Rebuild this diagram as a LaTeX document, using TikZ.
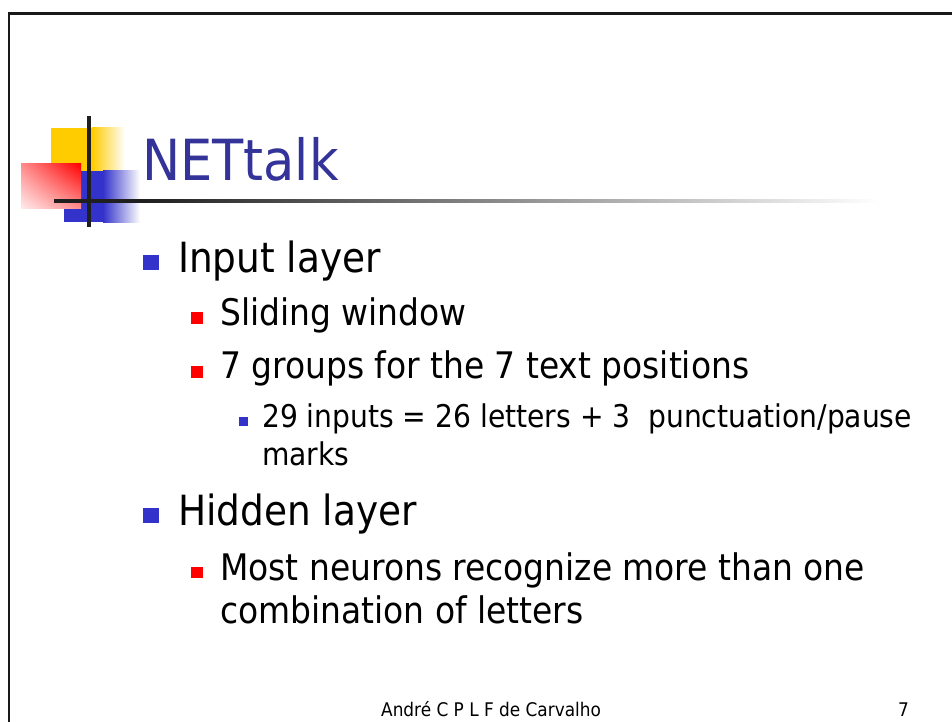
\documentclass[tikz,border=0pt]{standalone}
\usepackage{fontspec}
\usetikzlibrary{shadings}
\setmainfont{DejaVu Sans Condensed}
\definecolor{titleblue}{HTML}{333399}
\definecolor{bulblue}{HTML}{3333CC}
\definecolor{bulred}{HTML}{FF0000}
\definecolor{logoyellow}{HTML}{FFCC00}
\tikzset{
  lvlone/.style={anchor=base west, inner sep=0pt, font=\fontsize{41.6}{48}\selectfont},
  lvltwo/.style={anchor=base west, inner sep=0pt, font=\fontsize{36.6}{44}\selectfont},
  lvlthree/.style={anchor=base west, inner sep=0pt, font=\fontsize{31.3}{38}\selectfont},
  foot/.style={anchor=base west, inner sep=0pt, font=\fontsize{18.8}{20}\selectfont},
}
\begin{document}
\begin{tikzpicture}[x=1pt,y=-1pt]
\useasboundingbox (0,0) rectangle (952,722);
% slide frame
\draw[line width=2.5pt, black!90] (9,722) -- (9,13.5) -- (952,13.5);
% logo squares
\fill[logoyellow] (51,128) rectangle (92,172);
\shade[left color=logoyellow, right color=white] (92,128) rectangle (125,172);
\fill[bulblue] (64,171) rectangle (103,222);
\shade[left color=bulblue, right color=white] (103,171) rectangle (140,222);
\shade[upper right=red, upper left=red!45!white, lower right=red!45!white, lower left=red!8!white] (21,164) rectangle (81,208);
% logo cross lines
\fill[black!88] (54,199.2) rectangle (140,202.8);
\shade[left color=black!88, middle color=black!22, right color=white] (140,199.2) rectangle (880,202.8);
\fill[black!88] (87.3,116) rectangle (90.7,227);
% title
\node[anchor=base west, inner sep=0pt, text=titleblue, font=\fontsize{56.7}{60}\selectfont] (title) at (142,180) {NETtalk};
% bullets
\fill[bulblue] (143,255) rectangle (159,270);
\node[lvlone] (l1) at (178,272) {Input layer};
\fill[bulred] (191,312) rectangle (203,324);
\node[lvltwo] (l2) at (220,325) {Sliding window};
\fill[bulred] (191,366) rectangle (203,378);
\node[lvltwo] (l3) at (220,378) {7 groups for the 7 text positions};
\fill[bulblue] (239,417) rectangle (248,426);
\node[lvlthree] (l4) at (262,427) {29 inputs = 26 letters + 3\ \ punctuation/pause};
\node[lvlthree] (l5) at (262,465) {marks};
\fill[bulblue] (143,508) rectangle (159,523);
\node[lvlone] (l6) at (178,525) {Hidden layer};
\fill[bulred] (191,567) rectangle (203,578);
\node[lvltwo] (l7) at (220,580) {Most neurons recognize more than one};
\node[lvltwo] (l8) at (220,623) {combination of letters};
% footer
\node[foot] (author) at (381,716) {André C P L F de Carvalho};
\node[foot] (page) at (898,716) {7};
\end{tikzpicture}
\end{document}
